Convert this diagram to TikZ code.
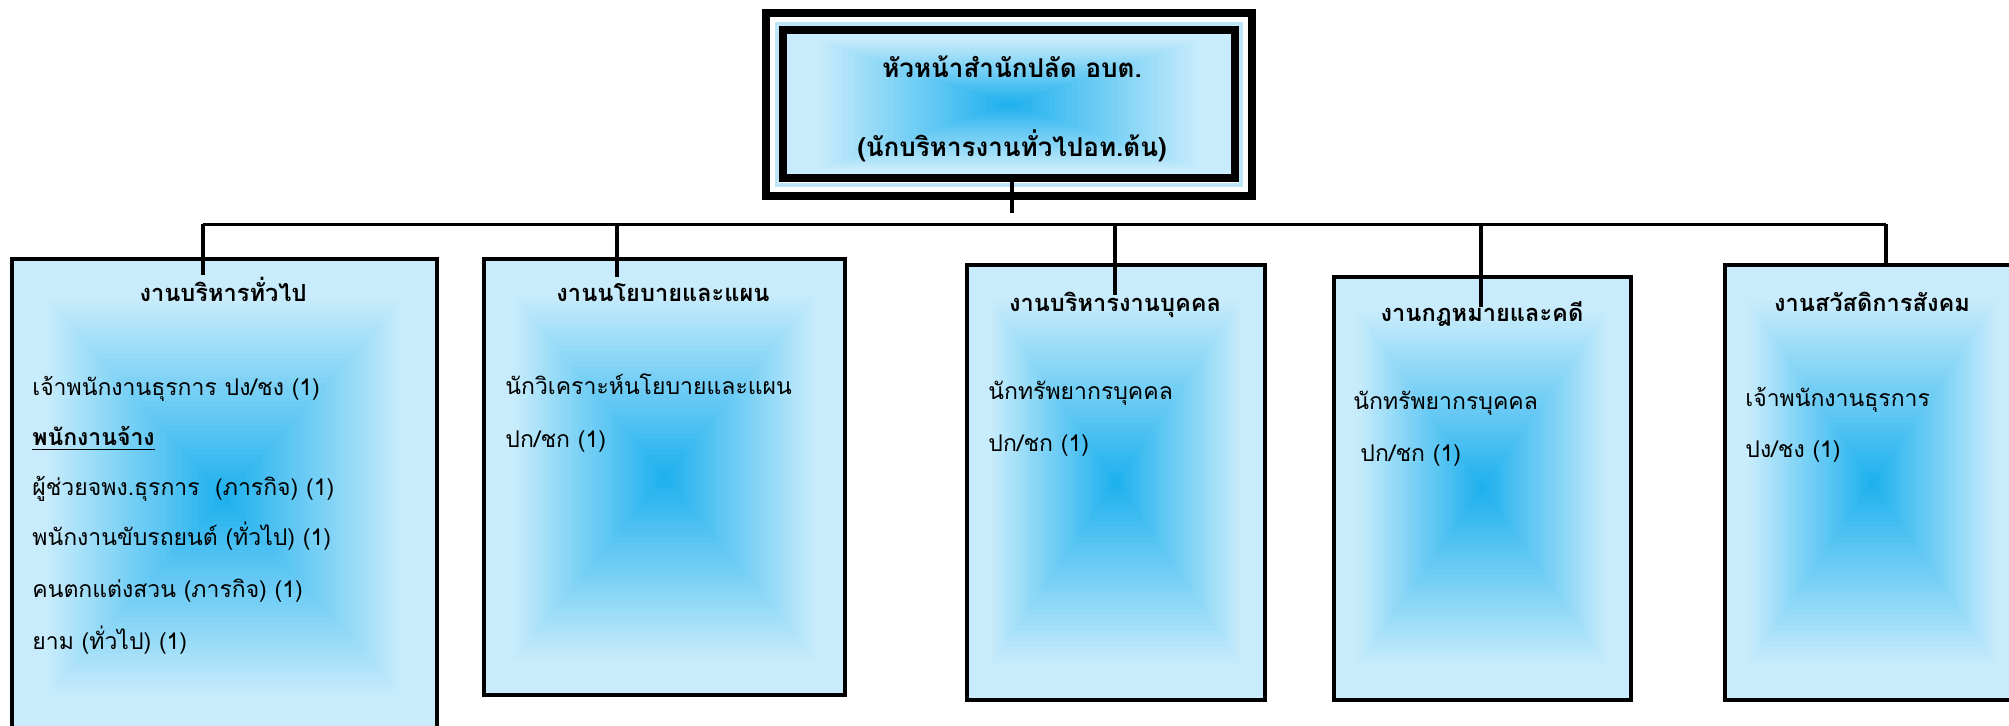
\documentclass[tikz,border=0pt]{standalone}
\usepackage{fontspec}
\setmainfont[Script=Thai]{Loma}
\usetikzlibrary{fit,backgrounds,calc}
\definecolor{gLight}{HTML}{C8ECFB}
\definecolor{gBright}{HTML}{1AAFEE}
\definecolor{bandBlue}{HTML}{BFE6F8}
\newcommand\gradfill[1]{%
  \foreach \i in {0,...,40}{%
    \pgfmathsetmacro\s{1-\i/40}%
    \pgfmathtruncatemacro\p{100*max(0,(0.85-\s)/0.85)}%
    \fill[gBright!\p!gLight] ($(#1.center)!\s!(#1.north east)$) rectangle ($(#1.center)!\s!(#1.south west)$);
  }}
\begin{document}
\begin{tikzpicture}[x=0.5pt,y=-0.5pt,
  deptbox/.style={draw=black,line width=2pt,inner sep=0pt},
  frame/.style={draw=black,line width=4pt,inner sep=0pt},
  conn/.style={line width=2pt},
  bus/.style={line width=1.75pt},
  head/.style={font=\bfseries\fontsize{11.8}{14}\selectfont,inner sep=0pt,anchor=base},
  body/.style={font=\fontsize{11.5}{14}\selectfont,inner sep=0pt,anchor=base west},
  toptext/.style={font=\bfseries\fontsize{13}{15}\selectfont,inner sep=0pt,anchor=base}]
\useasboundingbox (0,0) rectangle (2009,726);

% top box
\node[frame,fit={(766,13) (1252,196.5)}] (topouter) {};
\draw[bandBlue,line width=2pt] (776.5,24.5) rectangle (1241,185);
\node[frame,fit={(783,30.5) (1234.5,178.5)}] (top) {};
\node[toptext] (toptitle) at (1012,78) {หัวหน้าสำนักปลัด อบต.};
\node[toptext] (topsub) at (1012,157) {(นักบริหารงานทั่วไปอท.ต้น)};

% department boxes
\node[deptbox,fit={(12,259) (437,735)}] (b1) {};
\node[deptbox,fit={(484,259) (845,695)}] (b2) {};
\node[deptbox,fit={(967,265) (1265,700)}] (b3) {};
\node[deptbox,fit={(1334,277) (1631,700)}] (b4) {};
\node[deptbox,fit={(1725,265) (2020,700)}] (b5) {};

% box 1
\node[head] (h1) at (223,302) {งานบริหารทั่วไป};
\node[body] (b1a) at (32,396) {เจ้าพนักงานธุรการ ปง/ชง (1)};
\node[body] (b1b) at (32,446) {\textbf{\underline{พนักงานจ้าง}}};
\node[body] (b1c) at (32,496) {ผู้ช่วยจพง.ธุรการ\ \ (ภารกิจ) (1)};
\node[body] (b1d) at (32,546) {พนักงานขับรถยนต์ (ทั่วไป) (1)};
\node[body] (b1e) at (32,598) {คนตกแต่งสวน (ภารกิจ) (1)};
\node[body] (b1f) at (32,650) {ยาม (ทั่วไป) (1)};

% box 2
\node[head] (h2) at (663,302) {งานนโยบายและแผน};
\node[body] (b2a) at (505,395) {นักวิเคราะห์นโยบายและแผน};
\node[body] (b2b) at (505,448) {ปก/ชก (1)};

% box 3
\node[head] (h3) at (1115,312) {งานบริหารงานบุคคล};
\node[body] (b3a) at (988,400) {นักทรัพยากรบุคคล};
\node[body] (b3b) at (988,452) {ปก/ชก (1)};

% box 4
\node[head] (h4) at (1482,322) {งานกฎหมายและคดี};
\node[body] (b4a) at (1353,410) {นักทรัพยากรบุคคล};
\node[body] (b4b) at (1360,462) {ปก/ชก (1)};

% box 5
\node[head] (h5) at (1872,312) {งานสวัสดิการสังคม};
\node[body] (b5a) at (1745,407) {เจ้าพนักงานธุรการ};
\node[body] (b5b) at (1745,458) {ปง/ชง (1)};

% gradients
\begin{scope}[on background layer]
  \gradfill{top}
  \gradfill{b1}
  \gradfill{b2}
  \gradfill{b3}
  \gradfill{b4}
  \gradfill{b5}
\end{scope}

% connectors
\coordinate (busL) at (203,224.5);
\coordinate (busR) at (1886,224.5);
\coordinate (tj) at (1012,213);
\coordinate (d1) at (203,275);
\coordinate (d2) at (617,277);
\coordinate (d3) at (1115,295);
\coordinate (d4) at (1481,307);
\draw[conn] (tj |- top.south) -- (tj);
\draw[bus] (busL) -- (busR);
\draw[conn] (d1 |- busL) -- (d1);
\draw[conn] (d2 |- busL) -- (d2);
\draw[conn] (d3 |- busL) -- (d3);
\draw[conn] (d4 |- busL) -- (d4);
\draw[conn] (busR) -- (busR |- b5.north);
\end{tikzpicture}
\end{document}
